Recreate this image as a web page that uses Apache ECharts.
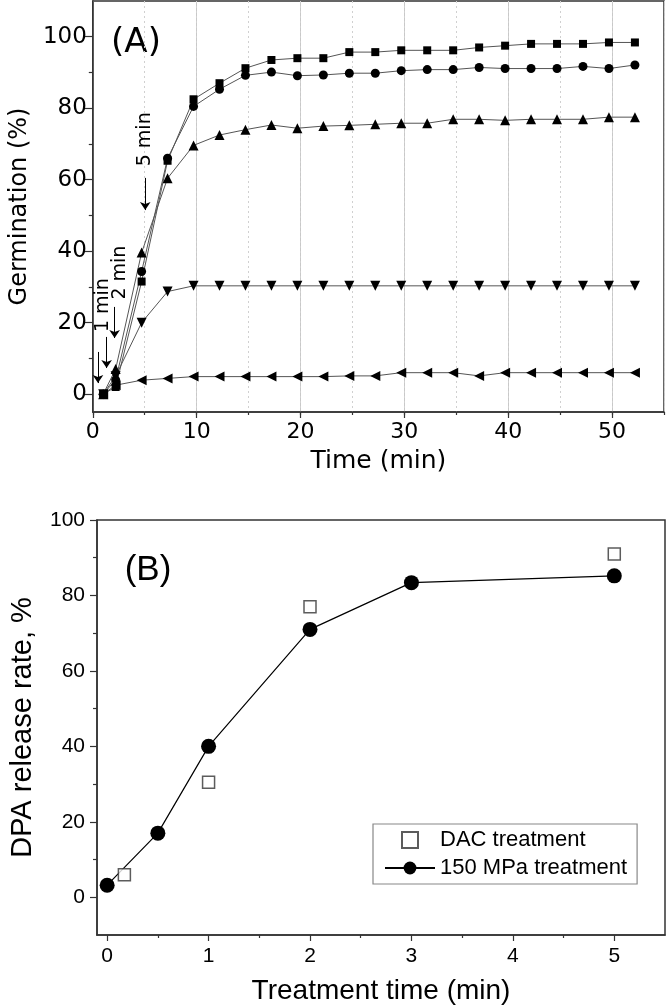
<!DOCTYPE html>
<html><head><meta charset="utf-8">
<script src="https://cdn.jsdelivr.net/npm/echarts@6/dist/echarts.min.js"></script>
<style>html,body{margin:0;padding:0;background:#fff}#c{width:666px;height:1008px}</style>
</head><body><div id="c"></div>
<script>
// ---------- Panel A data ----------
const timeA = [1, 2.2, 4.7, 7.2, 9.7, 12.2, 14.7, 17.2, 19.7, 22.2, 24.7, 27.2, 29.7, 32.2, 34.7, 37.2, 39.7, 42.2, 44.7, 47.2, 49.7, 52.2];
const squareA = [0, 2, 31.5, 65.3, 82.5, 87, 91.2, 93.5, 94, 94, 95.7, 95.7, 96.2, 96.2, 96.2, 97, 97.5, 98, 98, 98, 98.4, 98.4];
const circleA = [0, 4, 34.3, 66, 80.5, 85.3, 89.2, 90.1, 89.1, 89.3, 89.8, 89.8, 90.5, 90.8, 90.8, 91.4, 91.1, 91.1, 91.1, 91.7, 91.1, 92.1];
const triUpA = [0, 7, 39.6, 60.4, 69.6, 72.5, 74, 75.3, 74.4, 75, 75.2, 75.5, 75.8, 75.8, 76.9, 76.9, 76.6, 76.9, 76.9, 76.9, 77.5, 77.5];
const triDownA = [0, 5, 20, 28.7, 30.3, 30.3, 30.3, 30.3, 30.3, 30.3, 30.3, 30.3, 30.3, 30.3, 30.3, 30.3, 30.3, 30.3, 30.3, 30.3, 30.3, 30.3];
const triLeftA = [0, 2.5, 3.9, 4.4, 4.9, 4.9, 4.9, 4.9, 4.9, 4.9, 5.1, 5.1, 6, 6, 6, 5.1, 6, 6, 6, 6, 6, 6];
const yTicksA = [0, 20, 40, 60, 80, 100];
const yMinorA = [10, 30, 50, 70, 90];
// arrows (time, from %, to %) and their labels
const arrowT = [0.5, 1.33, 2.1, 5.05];
const arrowFrom = [11.8, 16, 24.4, 60.5];
const arrowTo = [3.1, 7.3, 15.7, 51.5];
const noteText = ['1 min', '2 min', '5 min'];
const noteT = [0.95, 2.67, 5.05];
const noteV = [24.9, 34, 71.3];

// ---------- Panel B data ----------
const dacX = [0.17, 1, 2, 5];
const dacY = [6, 30.5, 77, 91];
const mpaX = [0, 0.5, 1, 2, 3, 5];
const mpaY = [3.2, 17, 40, 71, 83.4, 85.2];
const xTicksB = [0, 1, 2, 3, 4, 5];
const xMinorB = [0.5, 1.5, 2.5, 3.5, 4.5];
const yTicksB = [0, 20, 40, 60, 80, 100];
const yMinorB = [10, 30, 50, 70, 90];

const FA = 'DejaVu Sans';
const FB = 'Liberation Sans';
const AX = '#333';

const zip = (xs, ys) => xs.map((x, i) => [x, ys[i]]);

function seriesA(vals, symbol, size, rot) {
  return {
    type: 'line', xAxisIndex: 0, yAxisIndex: 0,
    data: zip(timeA, vals),
    symbol: symbol, symbolSize: size, symbolRotate: rot || 0,
    showAllSymbol: true,
    lineStyle: { color: '#555', width: 1 },
    itemStyle: { color: '#000' },
    z: 3
  };
}

const chart = echarts.init(document.getElementById('c'));
chart.setOption({
  animation: false,
  backgroundColor: '#fff',
  grid: [
    { left: 87, top: 1, width: 577, height: 411, show: true, borderColor: AX, borderWidth: 1.5, backgroundColor: 'transparent' },
    { left: 87, top: 520, width: 578, height: 415, show: true, borderColor: AX, borderWidth: 1.5, backgroundColor: 'transparent' }
  ],
  xAxis: [
    { type: 'value', gridIndex: 0, position: 'bottom', min: 0, max: 55, interval: 10,
      name: 'Time (min)', nameLocation: 'middle', nameGap: 37,
      nameTextStyle: { fontFamily: FA, fontSize: 25, color: '#000' },
      axisLine: { onZero: false, lineStyle: { color: AX, width: 1.5 } },
      axisTick: { inside: false, length: 6, lineStyle: { color: AX, width: 1.2 } },
      axisLabel: { fontFamily: FA, fontSize: 22, color: '#000', margin: 9, showMaxLabel: false },
      splitLine: { show: true, lineStyle: { color: '#c8c8c8', width: 1, type: 'solid' } } },
    { type: 'value', gridIndex: 0, position: 'bottom', min: 0, max: 55, interval: 5,
      axisLine: { show: false, onZero: false },
      axisTick: { inside: false, length: 3, lineStyle: { color: AX, width: 1.2 } },
      axisLabel: { show: false },
      splitLine: { show: true, lineStyle: { color: '#d0d0d0', width: 1, type: [2, 3] } } },
    { type: 'value', gridIndex: 1, position: 'bottom', min: -0.1, max: 5.5,
      name: 'Treatment time (min)', nameLocation: 'middle', nameGap: 42,
      nameTextStyle: { fontFamily: FB, fontSize: 28, color: '#000' },
      axisLine: { onZero: false, lineStyle: { color: AX, width: 1.5 } },
      axisTick: { inside: false, length: 6, customValues: xTicksB, lineStyle: { color: AX, width: 1.2 } },
      axisLabel: { fontFamily: FB, fontSize: 21, color: '#000', margin: 11, customValues: xTicksB },
      splitLine: { show: false } },
    { type: 'value', gridIndex: 1, position: 'bottom', min: -0.1, max: 5.5,
      axisLine: { show: false, onZero: false },
      axisTick: { inside: false, length: 3, customValues: xMinorB, lineStyle: { color: AX, width: 1.2 } },
      axisLabel: { show: false },
      splitLine: { show: false } }
  ],
  yAxis: [
    { type: 'value', gridIndex: 0, position: 'left', min: -5, max: 110,
      name: 'Germination (%)', nameLocation: 'middle', nameGap: 57, nameRotate: 90,
      nameTextStyle: { fontFamily: FA, fontSize: 24, color: '#000' },
      axisLine: { onZero: false, lineStyle: { color: AX, width: 1.5 } },
      axisTick: { inside: false, length: 8, customValues: yTicksA, lineStyle: { color: AX, width: 1.2 } },
      axisLabel: { fontFamily: FA, fontSize: 23, color: '#000', margin: 6, customValues: yTicksA },
      splitLine: { show: false } },
    { type: 'value', gridIndex: 0, position: 'left', min: -5, max: 110,
      axisLine: { show: false, onZero: false },
      axisTick: { inside: false, length: 4, customValues: yMinorA, lineStyle: { color: AX, width: 1.2 } },
      axisLabel: { show: false },
      splitLine: { show: false } },
    { type: 'value', gridIndex: 1, position: 'left', min: -10, max: 100,
      name: 'DPA release rate, %', nameLocation: 'middle', nameGap: 60, nameRotate: 90,
      nameTextStyle: { fontFamily: FB, fontSize: 29, color: '#000' },
      axisLine: { onZero: false, lineStyle: { color: AX, width: 1.5 } },
      axisTick: { inside: false, length: 7, customValues: yTicksB, lineStyle: { color: AX, width: 1.2 } },
      axisLabel: { fontFamily: FB, fontSize: 21, color: '#000', margin: 12, customValues: yTicksB },
      splitLine: { show: false } },
    { type: 'value', gridIndex: 1, position: 'left', min: -10, max: 100,
      axisLine: { show: false, onZero: false },
      axisTick: { inside: false, length: 4, customValues: yMinorB, lineStyle: { color: AX, width: 1.2 } },
      axisLabel: { show: false },
      splitLine: { show: false } }
  ],
  legend: {
    data: [
      { name: 'DAC treatment', icon: 'path://M0,0L10,0L10,10L0,10Z' },
      { name: '150 MPa treatment' }
    ],
    orient: 'vertical', left: 373, top: 824,
    padding: [5, 10, 5, 11], itemGap: 6, itemWidth: 50, itemHeight: 16,
    symbolKeepAspect: true,
    borderColor: '#888', borderWidth: 1.2, borderRadius: 0,
    textStyle: { fontFamily: FB, fontSize: 22, color: '#000' }
  },
  graphic: [
    { type: 'text', x: 136, y: 43, style: { text: '(A)', font: '34px "DejaVu Sans"', fill: '#000', align: 'center', verticalAlign: 'middle' } },
    { type: 'text', x: 148, y: 570, style: { text: '(B)', font: '35px "Liberation Sans"', fill: '#000', align: 'center', verticalAlign: 'middle' } }
  ],
  series: [
    seriesA(triLeftA, 'triangle', 10, 90),
    seriesA(triDownA, 'triangle', 10, 180),
    seriesA(triUpA, 'triangle', 10, 0),
    seriesA(circleA, 'circle', 9, 0),
    seriesA(squareA, 'rect', 8, 0),
    { type: 'scatter', xAxisIndex: 0, yAxisIndex: 0, data: [], silent: true,
      markLine: {
        silent: true, symbol: ['none', 'arrow'], symbolSize: 8, precision: 4,
        lineStyle: { color: '#000', width: 1, type: 'solid' },
        label: { show: false },
        data: arrowT.map((t, i) => [{ coord: [t, arrowFrom[i]] }, { coord: [t, arrowTo[i]] }])
      },
      markPoint: {
        silent: true, symbol: 'circle', symbolSize: 0,
        label: { show: true, position: 'inside', rotate: 90, fontFamily: FA, fontSize: 19, color: '#000', formatter: p => p.name },
        data: noteText.map((s, i) => ({ name: s, coord: [noteT[i], noteV[i]] }))
      } },
    { name: 'DAC treatment', type: 'scatter', xAxisIndex: 2, yAxisIndex: 2,
      data: zip(dacX, dacY), symbol: 'rect', symbolSize: 12,
      itemStyle: { color: '#fff', borderColor: '#333', borderWidth: 1.5 }, z: 4 },
    { name: '150 MPa treatment', type: 'line', xAxisIndex: 2, yAxisIndex: 2,
      data: zip(mpaX, mpaY), symbol: 'circle', symbolSize: 15,
      lineStyle: { color: '#000', width: 1.2 }, itemStyle: { color: '#000' }, z: 3 }
  ]
});
</script>
</body></html>
